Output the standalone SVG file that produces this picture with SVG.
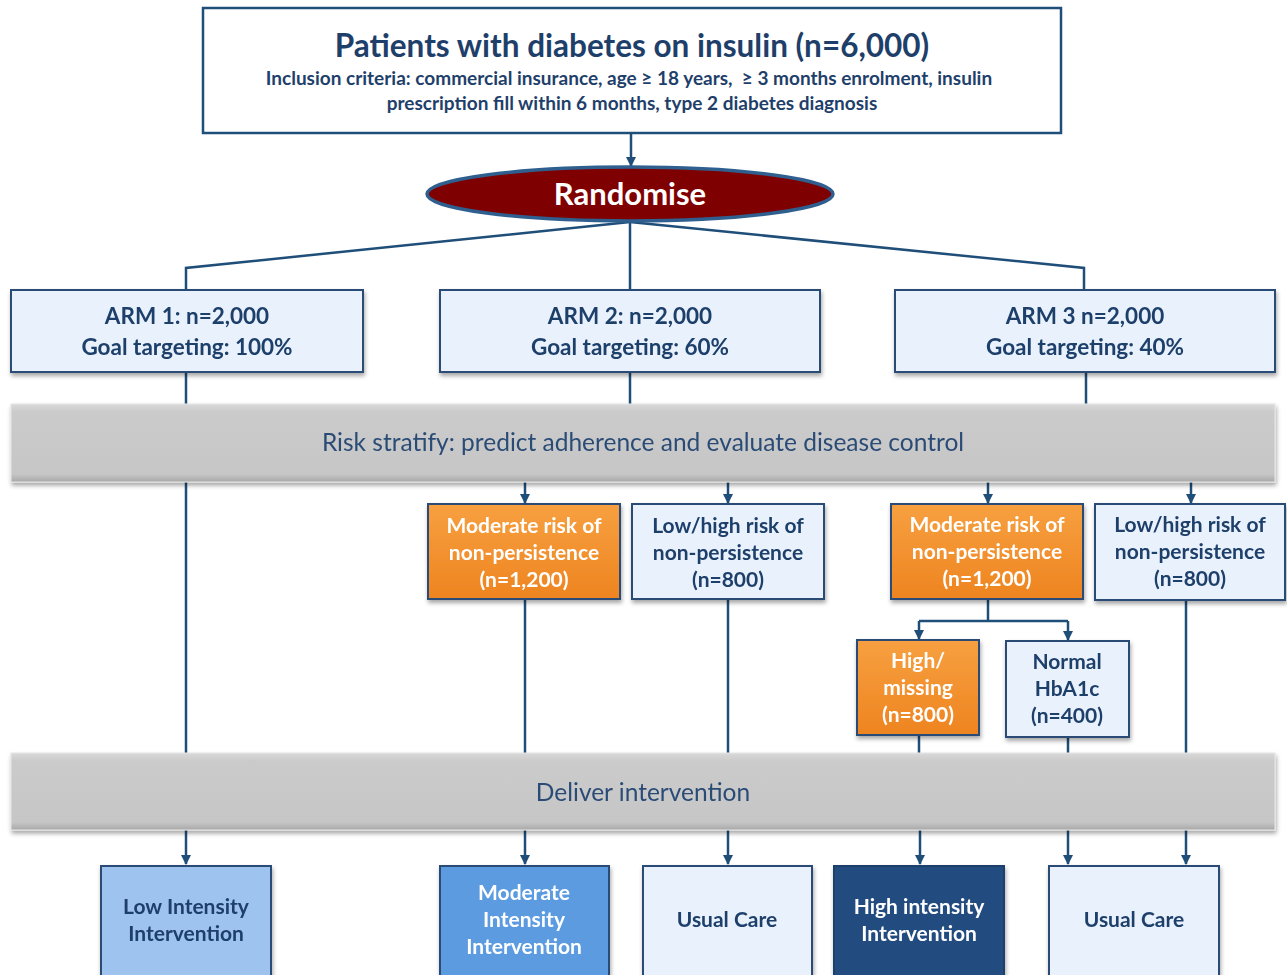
<svg xmlns="http://www.w3.org/2000/svg" width="1287" height="975" viewBox="0 0 1287 975">
<defs>
<filter id="sh" x="-10%" y="-10%" width="120%" height="130%"><feDropShadow dx="1" dy="3" stdDeviation="2" flood-color="#000" flood-opacity="0.35"/></filter>
<linearGradient id="orange" x1="0" y1="0" x2="0" y2="1"><stop offset="0" stop-color="#F7A040"/><stop offset="1" stop-color="#EE8420"/></linearGradient>
<linearGradient id="gray" x1="0" y1="0" x2="0" y2="1"><stop offset="0" stop-color="#D9D9D9"/><stop offset="0.1" stop-color="#CBCBCB"/><stop offset="0.9" stop-color="#C6C6C6"/><stop offset="1" stop-color="#A8A8A8"/></linearGradient>
<marker id="ah" viewBox="0 0 10 10" refX="9" refY="5" markerWidth="4" markerHeight="4" orient="auto"><path d="M0,0 L10,5 L0,10 z" fill="#1F4E79"/></marker>
<style>
text{font-family:Lato,"Open Sans","Liberation Sans",sans-serif;text-anchor:middle;font-weight:bold}
.dk{fill:#1F3F6B}
.wt{fill:#FFFFFF}
.light{fill:#E8F1FC;stroke:#2B4C76;stroke-width:2}
.org{fill:url(#orange);stroke:#2B4C76;stroke-width:2}
.bar{fill:url(#gray);stroke:#E6E6E6;stroke-width:1}
.ln{stroke:#1F4E79;stroke-width:2.5;fill:none}
.arr{stroke:#1F4E79;stroke-width:2.5;fill:none;marker-end:url(#ah)}
.t19{font-size:21px}
.t20{font-size:21px}
.t21{font-size:22.5px}
.bt{font-size:24.5px;font-weight:normal;fill:#2B4C76}
</style>
</defs>

<g id="connectors">
<line class="arr" x1="631" y1="133" x2="631" y2="166"/>
<polyline class="ln" points="630,222 186,268 186,290"/>
<line class="ln" x1="630" y1="222" x2="630" y2="290"/>
<polyline class="ln" points="630,222 1084,268 1084,290"/>
<line class="ln" x1="186" y1="372" x2="186" y2="404"/>
<line class="ln" x1="630" y1="372" x2="630" y2="404"/>
<line class="ln" x1="1086" y1="372" x2="1086" y2="404"/>
<line class="ln" x1="186" y1="482" x2="186" y2="753"/>
<line class="arr" x1="525" y1="482" x2="525" y2="503"/>
<line class="arr" x1="728" y1="482" x2="728" y2="503"/>
<line class="arr" x1="988" y1="482" x2="988" y2="503"/>
<line class="arr" x1="1191" y1="482" x2="1191" y2="503"/>
<line class="ln" x1="525" y1="599" x2="525" y2="753"/>
<line class="ln" x1="728" y1="599" x2="728" y2="753"/>
<line class="ln" x1="1186" y1="600" x2="1186" y2="753"/>
<line class="ln" x1="988" y1="599" x2="988" y2="621"/>
<polyline class="arr" points="919,621 919,639"/>
<polyline class="ln" points="919,621 1068,621"/>
<polyline class="arr" points="1068,621 1068,640"/>
<line class="ln" x1="919" y1="735" x2="919" y2="753"/>
<line class="ln" x1="1068" y1="737" x2="1068" y2="753"/>
<line class="arr" x1="186" y1="830" x2="186" y2="864"/>
<line class="arr" x1="525" y1="830" x2="525" y2="864"/>
<line class="arr" x1="728" y1="830" x2="728" y2="864"/>
<line class="arr" x1="920" y1="830" x2="920" y2="864"/>
<line class="arr" x1="1068" y1="830" x2="1068" y2="864"/>
<line class="arr" x1="1186" y1="830" x2="1186" y2="864"/>
</g>

<g id="top">
<rect x="203" y="8" width="858" height="125" fill="#FFFFFF" stroke="#1F4E79" stroke-width="2.5"/>
<text x="632" y="57" class="dk" style="font-size:31.5px">Patients with diabetes on insulin (n=6,000)</text>
<text x="629" y="85" class="dk" style="font-size:19px;white-space:pre">Inclusion criteria: commercial insurance, age ≥ 18 years,  ≥ 3 months enrolment, insulin</text>
<text x="632" y="110" class="dk" style="font-size:19px">prescription fill within 6 months, type 2 diabetes diagnosis</text>
</g>

<g id="randomise">
<ellipse cx="630" cy="194" rx="203" ry="27" fill="#7F0000" stroke="#2E5F8F" stroke-width="3.5"/>
<text x="630" y="205" class="wt" style="font-size:31px">Randomise</text>
</g>

<g id="arm1" filter="url(#sh)">
<rect x="11" y="290" width="352" height="82" class="light"/>
<text x="187" y="324" class="dk t21">ARM 1: n=2,000</text>
<text x="187" y="355" class="dk t21">Goal targeting: 100%</text>
</g>
<g id="arm2" filter="url(#sh)">
<rect x="440" y="290" width="380" height="82" class="light"/>
<text x="630" y="324" class="dk t21">ARM 2: n=2,000</text>
<text x="630" y="355" class="dk t21">Goal targeting: 60%</text>
</g>
<g id="arm3" filter="url(#sh)">
<rect x="895" y="290" width="380" height="82" class="light"/>
<text x="1085" y="324" class="dk t21">ARM 3 n=2,000</text>
<text x="1085" y="355" class="dk t21">Goal targeting: 40%</text>
</g>

<g id="risk" filter="url(#sh)">
<rect x="11" y="404" width="1264" height="78" class="bar"/>
<text x="643" y="451" class="bt">Risk stratify: predict adherence and evaluate disease control</text>
</g>

<g id="mod1" filter="url(#sh)">
<rect x="428" y="504" width="192" height="95" class="org"/>
<text x="524" y="533" class="wt t19">Moderate risk of</text>
<text x="524" y="560" class="wt t19">non-persistence</text>
<text x="524" y="587" class="wt t19">(n=1,200)</text>
</g>
<g id="low1" filter="url(#sh)">
<rect x="632" y="504" width="192" height="95" class="light"/>
<text x="728" y="533" class="dk t19">Low/high risk of</text>
<text x="728" y="560" class="dk t19">non-persistence</text>
<text x="728" y="587" class="dk t19">(n=800)</text>
</g>
<g id="mod2" filter="url(#sh)">
<rect x="891" y="504" width="192" height="95" class="org"/>
<text x="987" y="532" class="wt t19">Moderate risk of</text>
<text x="987" y="559" class="wt t19">non-persistence</text>
<text x="987" y="586" class="wt t19">(n=1,200)</text>
</g>
<g id="low2" filter="url(#sh)">
<rect x="1095" y="504" width="190" height="96" class="light"/>
<text x="1190" y="532" class="dk t19">Low/high risk of</text>
<text x="1190" y="559" class="dk t19">non-persistence</text>
<text x="1190" y="586" class="dk t19">(n=800)</text>
</g>
<g id="high" filter="url(#sh)">
<rect x="857" y="640" width="122" height="95" class="org"/>
<text x="918" y="668" class="wt t19">High/</text>
<text x="918" y="695" class="wt t19">missing</text>
<text x="918" y="722" class="wt t19">(n=800)</text>
</g>
<g id="normal" filter="url(#sh)">
<rect x="1006" y="641" width="123" height="96" class="light"/>
<text x="1067" y="669" class="dk t19">Normal</text>
<text x="1067" y="696" class="dk t19">HbA1c</text>
<text x="1067" y="723" class="dk t19">(n=400)</text>
</g>

<g id="deliver" filter="url(#sh)">
<rect x="11" y="753" width="1264" height="77" class="bar"/>
<text x="643" y="801" class="bt">Deliver intervention</text>
</g>

<g id="lowint" filter="url(#sh)">
<rect x="101" y="866" width="170" height="114" fill="#9DC3EE" stroke="#2B4C76" stroke-width="2"/>
<text x="186" y="914" class="dk t20">Low Intensity</text>
<text x="186" y="941" class="dk t20">Intervention</text>
</g>
<g id="modint" filter="url(#sh)">
<rect x="440" y="866" width="169" height="114" fill="#5B9BE0" stroke="#2B4C76" stroke-width="2"/>
<text x="524" y="900" class="wt t20">Moderate</text>
<text x="524" y="927" class="wt t20">Intensity</text>
<text x="524" y="954" class="wt t20">Intervention</text>
</g>
<g id="usual1" filter="url(#sh)">
<rect x="643" y="866" width="169" height="114" class="light"/>
<text x="727" y="927" class="dk t20">Usual Care</text>
</g>
<g id="highint" filter="url(#sh)">
<rect x="834" y="866" width="170" height="114" fill="#234C80" stroke="#1F3F6B" stroke-width="2"/>
<text x="919" y="914" class="wt t20">High intensity</text>
<text x="919" y="941" class="wt t20">Intervention</text>
</g>
<g id="usual2" filter="url(#sh)">
<rect x="1049" y="866" width="170" height="114" class="light"/>
<text x="1134" y="927" class="dk t20">Usual Care</text>
</g>
</svg>
